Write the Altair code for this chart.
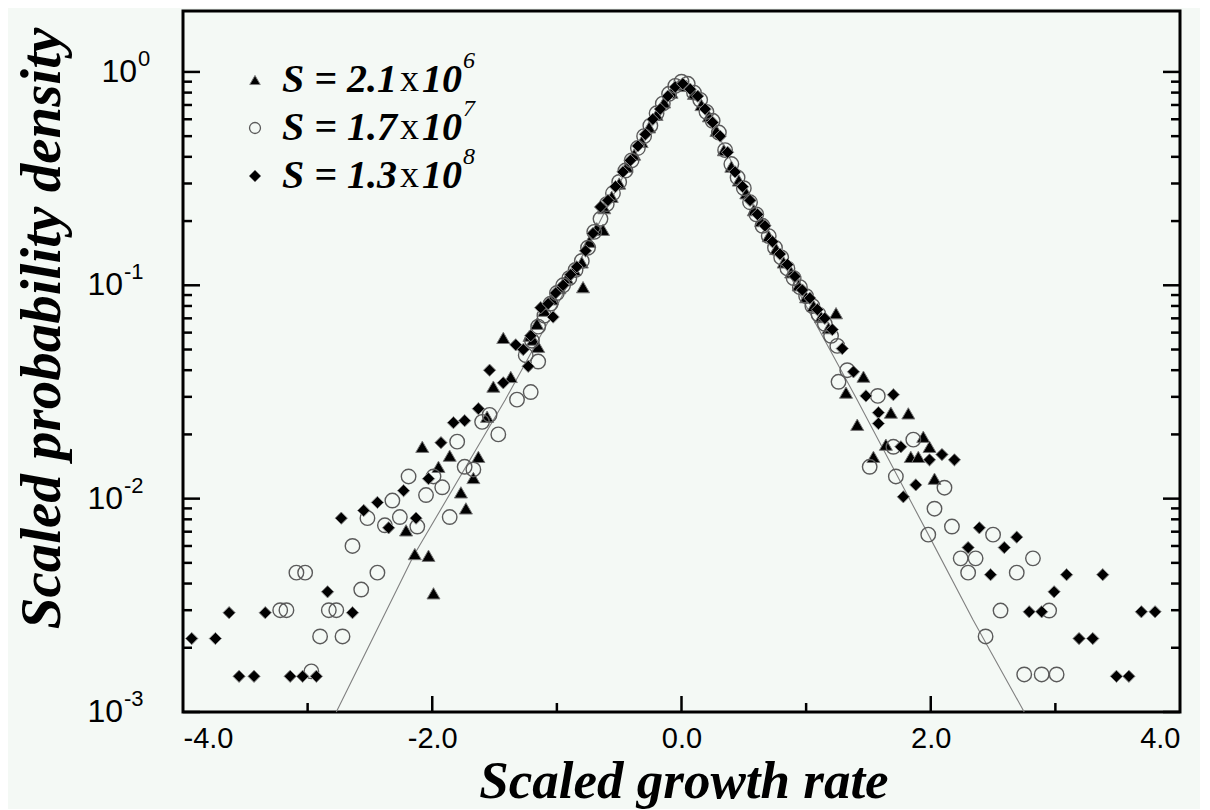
import altair as alt
import pandas as pd

# ---------------- data ----------------
tri_x = [-1.22, -1.16, -1.10, -1.04, -0.98, -0.92, -0.86, -0.80, -0.74, -0.68, -0.62, -0.56, -0.50, -0.44,
         -0.38, -0.32, -0.26, -0.20, -0.14, -0.08, -0.02, 0.04, 0.10, 0.16, 0.22, 0.28, 0.34, 0.40, 0.46,
         0.52, 0.58, 0.64, 0.70, 0.76, 0.82, 0.88, 0.94, 1.00, 1.06, 1.12, 1.18,
         -0.79, -0.63,
         -1.19, -1.15, -1.43, -1.51, -1.37, -1.56, -2.08, -1.86, -1.95, -1.63, -1.67, -1.77, -1.73, -2.21,
         -2.14, -2.03, -1.99,
         1.24, 1.46, 1.32, 1.68, 1.82, 1.41, 1.64, 1.94, 1.99, 1.54, 1.84, 1.90, 2.03]
tri_y = [0.058, 0.066, 0.076, 0.086, 0.097, 0.108, 0.118, 0.128, 0.16, 0.185, 0.23, 0.26, 0.30, 0.36,
         0.41, 0.47, 0.55, 0.63, 0.72, 0.80, 0.87, 0.86, 0.79, 0.70, 0.62, 0.53, 0.43, 0.36, 0.31,
         0.27, 0.225, 0.20, 0.17, 0.148, 0.128, 0.115, 0.10, 0.088, 0.080, 0.071, 0.063,
         0.098, 0.182,
         0.0556, 0.0515, 0.0567, 0.0335, 0.0372, 0.0242, 0.0175, 0.0159, 0.0141, 0.0157, 0.0125, 0.0107, 0.0090, 0.0071,
         0.0055, 0.0054, 0.0036,
         0.074, 0.0373, 0.0314, 0.0253, 0.0251, 0.0222, 0.0179, 0.0195, 0.0175, 0.0157, 0.0157, 0.0157, 0.0124]

circ_x = [-1.25, -1.20, -1.15, -1.10, -1.05, -1.00, -0.95, -0.90, -0.85, -0.80, -0.75, -0.70, -0.65, -0.60,
          -0.55, -0.50, -0.45, -0.40, -0.35, -0.30, -0.25, -0.20, -0.15, -0.10, -0.05, 0.00, 0.05, 0.10,
          0.15, 0.20, 0.25, 0.30, 0.35, 0.40, 0.45, 0.50, 0.55, 0.60, 0.65, 0.70, 0.75, 0.80, 0.85, 0.90,
          0.95, 1.00, 1.05, 1.10, 1.15, 1.20, 1.25,
          -1.32, -1.21, -1.15, -1.60, -1.54, -1.47, -1.80, -1.74, -1.67, -2.19, -1.99, -1.92, -2.05, -2.32,
          -2.26, -2.52, -2.38, -2.12, -1.86, -2.64, -3.09, -3.02, -2.44, -2.57, -3.22, -3.17, -2.83, -2.77,
          -2.90, -2.72, -2.97,
          1.26, 1.33, 1.575, 1.70, 1.86, 1.51, 1.72, 2.11, 2.03, 2.17, 2.50, 1.98, 2.24, 2.36, 2.82, 2.30,
          2.69, 2.56, 2.95, 2.44, 2.75, 2.89, 3.01]
circ_y = [0.047, 0.055, 0.064, 0.072, 0.082, 0.092, 0.100, 0.108, 0.118, 0.130, 0.150, 0.178, 0.205, 0.240,
          0.270, 0.305, 0.345, 0.385, 0.440, 0.500, 0.560, 0.640, 0.710, 0.790, 0.860, 0.900, 0.880, 0.800,
          0.740, 0.650, 0.590, 0.520, 0.430, 0.370, 0.320, 0.285, 0.245, 0.215, 0.190, 0.170, 0.150, 0.135,
          0.120, 0.108, 0.098, 0.089, 0.080, 0.073, 0.066, 0.058, 0.052,
          0.0291, 0.0316, 0.0439, 0.0229, 0.0247, 0.0200, 0.0185, 0.0141, 0.0137, 0.0127, 0.0127, 0.0113,
          0.0104, 0.0098, 0.0082, 0.0081, 0.0075, 0.0074, 0.0082, 0.0060, 0.0045, 0.0045, 0.0045, 0.00375,
          0.0030, 0.0030, 0.0030, 0.0030, 0.00226, 0.00226, 0.00155,
          0.0353, 0.040, 0.0303, 0.0175, 0.0189, 0.0141, 0.0127, 0.01125, 0.00897, 0.0074, 0.00678, 0.00678,
          0.00525, 0.00525, 0.00525, 0.0045, 0.0045, 0.00299, 0.00299, 0.00226, 0.0015, 0.0015, 0.0015]

dia_x = [-1.27, -1.21, -1.13, -1.07, -1.03, -1.01, -0.95, -0.89, -0.84, -0.77, -0.71, -0.65, -0.59, -0.53,
         -0.47, -0.41, -0.35, -0.29, -0.23, -0.17, -0.11, -0.05, 0.01, 0.07, 0.13, 0.19, 0.25, 0.31, 0.37,
         0.43, 0.49, 0.55, 0.61, 0.67, 0.73, 0.79, 0.85, 0.91, 0.97, 1.03, 1.09, 1.15, 1.21,
         -1.23, -1.33, -1.54, -1.43, -1.63, -1.83, -1.74, -1.93, -2.03, -2.23, -2.44, -2.55, -2.73, -2.35,
         -2.13, -2.84, -3.63, -3.34, -2.64, -3.93, -3.74, -3.55, -3.43, -3.14, -3.04, -2.93,
         1.29, 1.38, 1.48, 1.70, 1.58, 1.58, 1.76, 1.99, 2.09, 2.19, 1.88, 1.78, 2.39, 2.69, 2.59, 2.30,
         2.48, 3.09, 3.38, 2.99, 2.79, 2.89, 3.69, 3.80, 3.19, 3.30, 3.49, 3.59]
dia_y = [0.050, 0.058, 0.0785, 0.082, 0.071, 0.092, 0.10, 0.112, 0.122, 0.145, 0.175, 0.233, 0.25, 0.29,
         0.34, 0.385, 0.45, 0.51, 0.60, 0.67, 0.77, 0.85, 0.88, 0.83, 0.77, 0.67, 0.58, 0.50, 0.42,
         0.34, 0.29, 0.25, 0.215, 0.19, 0.16, 0.14, 0.125, 0.11, 0.095, 0.087, 0.077, 0.070, 0.062,
         0.0417, 0.0526, 0.040, 0.0349, 0.0264, 0.0227, 0.0232, 0.0183, 0.0124, 0.0109, 0.0096, 0.0088, 0.0081, 0.0073,
         0.0081, 0.00366, 0.00292, 0.00292, 0.00292, 0.00221, 0.00221, 0.00147, 0.00147, 0.00147, 0.00147, 0.00147,
         0.0505, 0.0393, 0.0303, 0.0307, 0.0253, 0.0225, 0.0175, 0.0152, 0.0161, 0.0152, 0.0116, 0.0102, 0.0073,
         0.0066, 0.0059, 0.0059, 0.0044, 0.0044, 0.0044, 0.00366, 0.00295, 0.00295, 0.00295, 0.00295, 0.00221,
         0.00221, 0.00147, 0.00147]

fit_x = [-2.77, -2.15, -1.415, -1.0, -0.6, -0.3, -0.1, 0.0, 0.1, 0.3, 0.6, 1.0, 1.41, 1.98, 2.34, 2.75]
fit_y = [0.001, 0.0054, 0.029, 0.080, 0.23, 0.50, 0.80, 0.88, 0.80, 0.50, 0.22, 0.080, 0.029, 0.0068, 0.0027, 0.001]

x_label_values = [-4, -2, 0, 2, 4]
x_tick_major = [-2, 0, 2]
x_tick_minor = [-3, -1, 1, 3]
y_major = [1, 0.1, 0.01, 0.001]
y_base = ["10", "10", "10", "10"]
y_exp = ["0", "-1", "-2", "-3"]
y_minor = [0.002, 0.003, 0.004, 0.005, 0.006, 0.007, 0.008, 0.009,
           0.02, 0.03, 0.04, 0.05, 0.06, 0.07, 0.08, 0.09,
           0.2, 0.3, 0.4, 0.5, 0.6, 0.7, 0.8, 0.9]

legend_prefix = ["S = 2.1", "S = 1.7", "S = 1.3"]
legend_times = ["x", "x", "x"]
legend_ten = ["10", "10", "10"]
legend_exp = ["6", "7", "8"]

# ---------------- chart ----------------
W, H = 997, 701
SERIF = "Liberation Serif"
SANS = "Liberation Sans"

XS = alt.Scale(domain=[-4, 4], nice=False, zero=False)
YS = alt.Scale(type="log", domain=[0.001, 1.93], nice=False)

x_axis = alt.Axis(values=x_label_values,
                  labelExpr="replace(format(datum.value, '.1f'), '\u2212', '-')",
                  ticks=False, domain=False, grid=False,
                  labelFont=SANS, labelFontSize=29, labelColor="black", labelPadding=12,
                  title="Scaled growth rate", titleFont=SERIF, titleFontSize=53,
                  titleFontWeight="bold", titleFontStyle="italic", titleColor="black",
                  titleX=W / 2 + 2, titleY=69, titleBaseline="middle", titleAlign="center")
y_axis = alt.Axis(labels=False, ticks=False, domain=False, grid=False,
                  title="Scaled probability density", titleFont=SERIF, titleFontSize=57,
                  titleFontWeight="bold", titleFontStyle="italic", titleColor="black",
                  titleX=-141, titleY=317, titleAngle=270, titleBaseline="middle", titleAlign="center")

X = alt.X("x:Q", scale=XS, axis=x_axis)
Y = alt.Y("y:Q", scale=YS, axis=y_axis)

df_fit = pd.DataFrame({"x": fit_x, "y": fit_y})
df_tri = pd.DataFrame({"x": tri_x, "y": tri_y})
df_circ = pd.DataFrame({"x": circ_x, "y": circ_y})
df_dia = pd.DataFrame({"x": dia_x, "y": dia_y})

fit = alt.Chart(df_fit).mark_line(color="#808080", strokeWidth=1.1).encode(x=X, y=Y)
tri = alt.Chart(df_tri).mark_point(shape="triangle-up", filled=True, size=170, fill="black",
                                   stroke="#7a7a7a", strokeWidth=1, opacity=1).encode(x=X, y=Y)
circ = alt.Chart(df_circ).mark_point(shape="circle", filled=False, size=210, color="#5a5a5a",
                                     strokeWidth=1.4, opacity=1).encode(x=X, y=Y)
dia = alt.Chart(df_dia).mark_point(shape="diamond", filled=True, size=150, fill="black",
                                   stroke="#8a8a8a", strokeWidth=1, opacity=1).encode(x=X, y=Y)

# inward ticks
df_ymaj = pd.DataFrame({"y": y_major})
df_ymin = pd.DataFrame({"y": y_minor})
df_xmaj = pd.DataFrame({"x": x_tick_major})
df_xmin = pd.DataFrame({"x": x_tick_minor})
TW = 2.5
ticks = [
    alt.Chart(df_ymaj).mark_rule(color="black", strokeWidth=TW).encode(y=Y, x=alt.value(0), x2=alt.value(17)),
    alt.Chart(df_ymin).mark_rule(color="black", strokeWidth=TW).encode(y=Y, x=alt.value(0), x2=alt.value(9)),
    alt.Chart(df_ymaj).mark_rule(color="black", strokeWidth=TW).encode(y=Y, x=alt.value(W), x2=alt.value(W - 17)),
    alt.Chart(df_ymin).mark_rule(color="black", strokeWidth=TW).encode(y=Y, x=alt.value(W), x2=alt.value(W - 9)),
    alt.Chart(df_xmaj).mark_rule(color="black", strokeWidth=TW).encode(x=X, y=alt.value(H), y2=alt.value(H - 16)),
    alt.Chart(df_xmin).mark_rule(color="black", strokeWidth=TW).encode(x=X, y=alt.value(H), y2=alt.value(H - 9)),
]

# y tick labels 10^k
df_ylab = pd.DataFrame({"y": y_major, "b": y_base, "e": y_exp})
ylabels = []
for cond, xb in [("length(datum.e) == 1", -46), ("length(datum.e) == 2", -60)]:
    ylabels.append(alt.Chart(df_ylab).transform_filter(cond).mark_text(
        align="right", baseline="middle", font=SANS, fontSize=32, color="black"
    ).encode(y=Y, x=alt.value(xb), text="b:N"))
    ylabels.append(alt.Chart(df_ylab).transform_filter(cond).mark_text(
        align="left", baseline="middle", font=SANS, fontSize=22, color="black", dy=-13
    ).encode(y=Y, x=alt.value(xb + 1), text="e:N"))

# legend
df_leg = pd.DataFrame({"p": legend_prefix, "t": legend_times, "ten": legend_ten, "e": legend_exp})
row_y = [69, 117, 165]
leg_marks = [
    dict(shape="triangle-up", filled=True, size=110, fill="black", stroke="#7a7a7a", strokeWidth=1, opacity=1),
    dict(shape="circle", filled=False, size=120, color="#5a5a5a", strokeWidth=1.3, opacity=1),
    dict(shape="diamond", filled=True, size=140, fill="black", stroke="#8a8a8a", strokeWidth=1, opacity=1),
]
legend = []
for i in range(3):
    d = df_leg.iloc[[i]]
    yv = alt.value(row_y[i])
    legend.append(alt.Chart(d).mark_point(**leg_marks[i]).encode(x=alt.value(72), y=yv))
    legend.append(alt.Chart(d).mark_text(align="left", baseline="middle", font=SERIF, fontSize=40,
                                         fontWeight="bold", fontStyle="italic", color="black")
                  .encode(x=alt.value(99), y=yv, text="p:N"))
    legend.append(alt.Chart(d).mark_text(align="left", baseline="middle", font=SERIF, fontSize=38,
                                         color="black")
                  .encode(x=alt.value(217), y=yv, text="t:N"))
    legend.append(alt.Chart(d).mark_text(align="left", baseline="middle", font=SERIF, fontSize=40,
                                         fontWeight="bold", fontStyle="italic", color="black")
                  .encode(x=alt.value(239), y=yv, text="ten:N"))
    legend.append(alt.Chart(d).mark_text(align="left", baseline="middle", font=SERIF, fontSize=24,
                                         fontStyle="italic", color="black", dy=-19)
                  .encode(x=alt.value(280), y=yv, text="e:N"))

chart = alt.layer(fit, tri, circ, dia, *ticks, *ylabels, *legend).properties(
    width=W, height=H,
    autosize=alt.AutoSizeParams(type="none"),
    padding={"left": 175, "top": 3, "right": 20, "bottom": 97},
    background="#f4f9f5",
).configure_view(stroke="black", strokeWidth=3)

chart.save("out.html", embed_options={"renderer": "svg", "actions": False})
